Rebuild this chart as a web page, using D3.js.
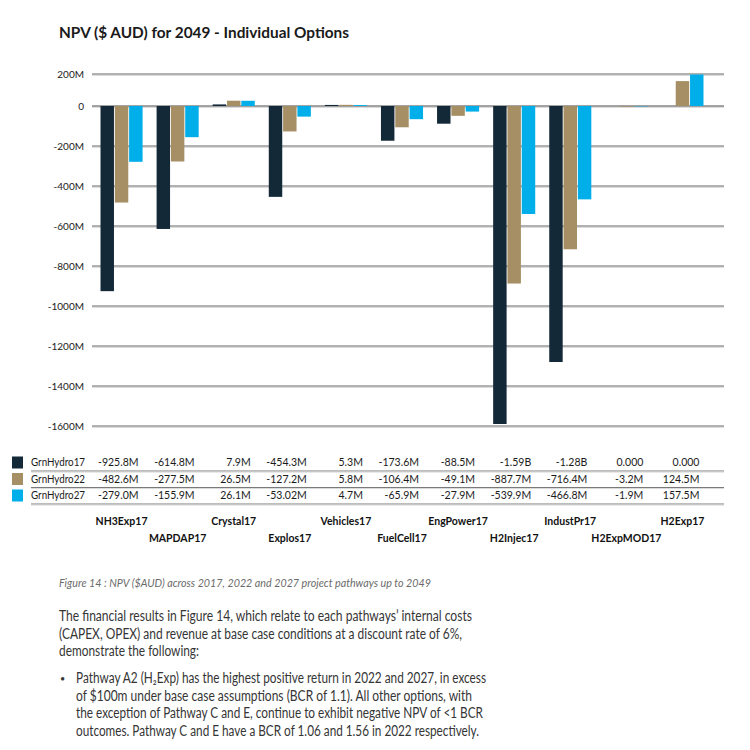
<!DOCTYPE html>
<html>
<head>
<meta charset="utf-8">
<script src="https://cdn.jsdelivr.net/npm/d3@7"></script>
<style>
  html, body { margin: 0; padding: 0; background: #fff; }
  svg { display: block; font-family: Lato, "Open Sans", sans-serif; }
</style>
</head>
<body>
<div id="chart"></div>
<script>
const categories = ['NH3Exp17', 'MAPDAP17', 'Crystal17', 'Explos17', 'Vehicles17', 'FuelCell17',
  'EngPower17', 'H2Injec17', 'IndustPr17', 'H2ExpMOD17', 'H2Exp17']
const seriesNames = ['GrnHydro17', 'GrnHydro22', 'GrnHydro27']

// values in $M
const grnHydro17 = [-925.8, -614.8, 7.9, -454.3, 5.3, -173.6, -88.5, -1590, -1280, 0, 0]
const grnHydro22 = [-482.6, -277.5, 26.5, -127.2, 5.8, -106.4, -49.1, -887.7, -716.4, -3.2, 124.5]
const grnHydro27 = [-279.0, -155.9, 26.1, -53.02, 4.7, -65.9, -27.9, -539.9, -466.8, -1.9, 157.5]

const tableLabels = [
  ['-925.8M', '-614.8M', '7.9M', '-454.3M', '5.3M', '-173.6M', '-88.5M', '-1.59B', '-1.28B', '0.000', '0.000'],
  ['-482.6M', '-277.5M', '26.5M', '-127.2M', '5.8M', '-106.4M', '-49.1M', '-887.7M', '-716.4M', '-3.2M', '124.5M'],
  ['-279.0M', '-155.9M', '26.1M', '-53.02M', '4.7M', '-65.9M', '-27.9M', '-539.9M', '-466.8M', '-1.9M', '157.5M']
]

const yTicks = [0, -200, -400, -600, -800, -1000, -1200, -1400, -1600]
const yTopLabel = '200M'   // the top gridline of the original sits at ~160M but is labelled 200M

const colors = ['#132938', '#a68f64', '#00aee9']

const title = 'NPV ($ AUD) for 2049 - Individual Options'
const caption = 'Figure 14 : NPV ($AUD) across 2017, 2022 and 2027 project pathways up to 2049'
const paragraph = [
  'The financial results in Figure 14, which relate to each pathways’ internal costs',
  '(CAPEX, OPEX) and revenue at base case conditions at a discount rate of 6%,',
  'demonstrate the following:'
]
const bulletLines = [
  'Pathway A2 (H₂Exp) has the highest positive return in 2022 and 2027, in excess',
  'of $100m under base case assumptions (BCR of 1.1). All other options, with',
  'the exception of Pathway C and E, continue to exhibit negative NPV of <1 BCR',
  'outcomes. Pathway C and E have a BCR of 1.06 and 1.56 in 2022 respectively.'
]

const W = 750, H = 750
const svg = d3.select('#chart').append('svg').attr('width', W).attr('height', H)

const gridLeft = 92, gridRight = 724
const textColor = '#353535'

const x = d3.scaleBand().domain(categories).range([93.5, 710.5]).paddingInner(0.25).paddingOuter(0.125)
const xs = d3.scaleBand().domain(seriesNames).range([0, x.bandwidth()]).paddingInner(0.06)
const y = d3.scaleLinear().domain([-1600, 160]).range([426, 74])

// title
svg.append('text')
  .attr('x', 59).attr('y', 38)
  .attr('font-size', 16).attr('font-weight', 700).attr('fill', '#1a1a1a')
  .attr('textLength', 290).attr('lengthAdjust', 'spacingAndGlyphs')
  .text(title)

// gridlines
const gridVals = [y.domain()[1]].concat(yTicks)
const grid = svg.append('g')
grid.selectAll('line.shadow')
  .data(gridVals).join('line').attr('class', 'shadow')
  .attr('x1', gridLeft).attr('x2', gridRight)
  .attr('y1', d => y(d) + 1.3).attr('y2', d => y(d) + 1.3)
  .attr('stroke', '#d3d3d3').attr('stroke-width', 1)
grid.selectAll('line.main')
  .data(gridVals).join('line').attr('class', 'main')
  .attr('x1', gridLeft).attr('x2', gridRight)
  .attr('y1', d => y(d)).attr('y2', d => y(d))
  .attr('stroke', d => d === 0 ? '#858585' : '#999').attr('stroke-width', 1.4)

// y labels
svg.append('g').selectAll('text')
  .data(gridVals).join('text')
  .attr('x', 84).attr('y', d => y(d)).attr('dy', '0.35em')
  .attr('text-anchor', 'end').attr('font-size', 10).attr('fill', '#222')
  .text((d, i) => i === 0 ? yTopLabel : (d === 0 ? '0' : d + 'M'))

// bars
const series = [grnHydro17, grnHydro22, grnHydro27]
const barData = []
series.forEach((vals, s) => {
  vals.forEach((v, i) => barData.push({ cat: categories[i], series: seriesNames[s], s, v }))
})

svg.append('g').selectAll('rect')
  .data(barData).join('rect')
  .attr('x', d => x(d.cat) + xs(d.series))
  .attr('width', xs.bandwidth())
  .attr('y', d => y(Math.max(0, d.v)))
  .attr('height', d => Math.abs(y(d.v) - y(0)))
  .attr('fill', d => colors[d.s])

// data table
const rowY = [462.5, 479, 495.5]
const table = svg.append('g')
rowY.forEach((ry, r) => {
  table.append('rect')
    .attr('x', 12).attr('y', ry - 6).attr('width', 11).attr('height', 12)
    .attr('fill', colors[r])
  table.append('text')
    .attr('x', 31).attr('y', ry).attr('dy', '0.35em')
    .attr('font-size', 11).attr('fill', '#1a1a1a')
    .attr('textLength', 54).attr('lengthAdjust', 'spacingAndGlyphs')
    .text(seriesNames[r])
  table.append('line')
    .attr('x1', 31).attr('x2', gridRight)
    .attr('y1', ry + 8.5).attr('y2', ry + 8.5)
    .attr('stroke', '#7a7a7a').attr('stroke-width', 1)
  table.append('line')
    .attr('x1', 31).attr('x2', gridRight)
    .attr('y1', ry + 9.6).attr('y2', ry + 9.6)
    .attr('stroke', '#d8d8d8').attr('stroke-width', 1)
  table.selectAll('text.val' + r)
    .data(tableLabels[r]).join('text').attr('class', 'val' + r)
    .attr('x', (d, i) => x(categories[i]) + x.bandwidth() / 2 + 17)
    .attr('y', ry).attr('dy', '0.35em')
    .attr('text-anchor', 'end').attr('font-size', 10.5).attr('fill', '#1a1a1a')
    .text(d => d)
})

// category labels (staggered)
svg.append('g').selectAll('text')
  .data(categories).join('text')
  .attr('x', d => x(d) + x.bandwidth() / 2)
  .attr('y', (d, i) => i % 2 === 0 ? 525 : 542)
  .attr('text-anchor', 'middle').attr('font-size', 10.5).attr('font-weight', 700).attr('fill', '#111')
  .text(d => d)

// caption
svg.append('text')
  .attr('x', 59).attr('y', 587)
  .attr('font-size', 11).attr('font-style', 'italic').attr('fill', '#6b6b6b')
  .attr('textLength', 372).attr('lengthAdjust', 'spacingAndGlyphs')
  .text(caption)

// body text
const bodyText = sel => sel.attr('font-size', 14.5).attr('font-weight', 400).attr('fill', textColor)
  .attr('lengthAdjust', 'spacingAndGlyphs')

const paraWidths = [413, 403, 140]
svg.append('g').selectAll('text')
  .data(paragraph).join('text')
  .attr('x', 59).attr('y', (d, i) => 621 + i * 17.5)
  .call(bodyText)
  .attr('textLength', (d, i) => paraWidths[i])
  .text(d => d)

svg.append('text')
  .attr('x', 60).attr('y', 682).attr('font-size', 9).attr('fill', textColor).text('•')

const bulletWidths = [410, 396, 407, 403]
svg.append('g').selectAll('text')
  .data(bulletLines).join('text')
  .attr('x', 76).attr('y', (d, i) => 683 + i * 17.5)
  .call(bodyText)
  .attr('textLength', (d, i) => bulletWidths[i])
  .text(d => d)
</script>
</body>
</html>
